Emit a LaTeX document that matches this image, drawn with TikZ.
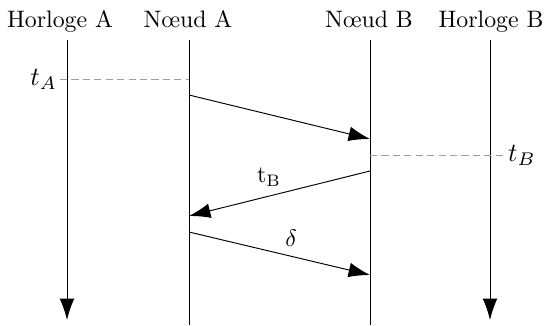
\documentclass[tikz,border=0pt]{standalone}
\usetikzlibrary{arrows.meta}
\begin{document}
\begin{tikzpicture}[x=0.42pt,y=-0.42pt,
  hdr/.style={inner sep=1pt,anchor=base},
  life/.style={line width=0.4pt},
  msg/.style={line width=0.4pt,-{Latex[length=9pt,width=6.2pt]}},
  tick/.style={gray!75,dash pattern=on 3pt off 1.8pt,line width=0.4pt},
  lbl/.style={inner sep=1pt}]
\useasboundingbox (0,0) rectangle (547,325);
% headers
\node[hdr] (hA) at (60,27) {Horloge A};
\node[hdr] (nA) at (188,27) {N\oe ud A};
\node[hdr] (nB) at (369,27) {N\oe ud B};
\node[hdr] (hB) at (491,27) {Horloge B};
% lifeline ends
\coordinate (hAt) at (67,40);  \coordinate (hAb) at (67,320);
\coordinate (nAt) at (189,40); \coordinate (nAb) at (189,325);
\coordinate (nBt) at (370,40); \coordinate (nBb) at (370,325);
\coordinate (hBt) at (490,40); \coordinate (hBb) at (490,320);
\draw[msg] (hAt) -- (hAb);
\draw[life] (nAt) -- (nAb);
\draw[life] (nBt) -- (nBb);
\draw[msg] (hBt) -- (hBb);
% message points
\coordinate (m1s) at (189,95);  \coordinate (m1e) at (370,139);
\coordinate (m2s) at (370,171); \coordinate (m2e) at (189,216);
\coordinate (m3s) at (189,232); \coordinate (m3e) at (370,275);
\coordinate (dA) at (189,79);   \coordinate (dB) at (370,155);
% time labels
\node[lbl,anchor=east,scale=1.1] (tA) at (60,79) {$t_A$};
\node[lbl,anchor=west,scale=1.1] (tB) at (505,155) {$t_B$};
\draw[tick] (tA.east) -- (dA);
\draw[tick] (dB) -- (tB.west);
% messages
\draw[msg] (m1s) -- (m1e);
\draw[msg] (m2s) -- (m2e);
\draw[msg] (m3s) -- (m3e);
\node[lbl] (l2) at (269,177) {$\mathrm{t}_\mathrm{B}$};
\node[lbl] (l3) at (291,238) {$\delta$};
\end{tikzpicture}
\end{document}
